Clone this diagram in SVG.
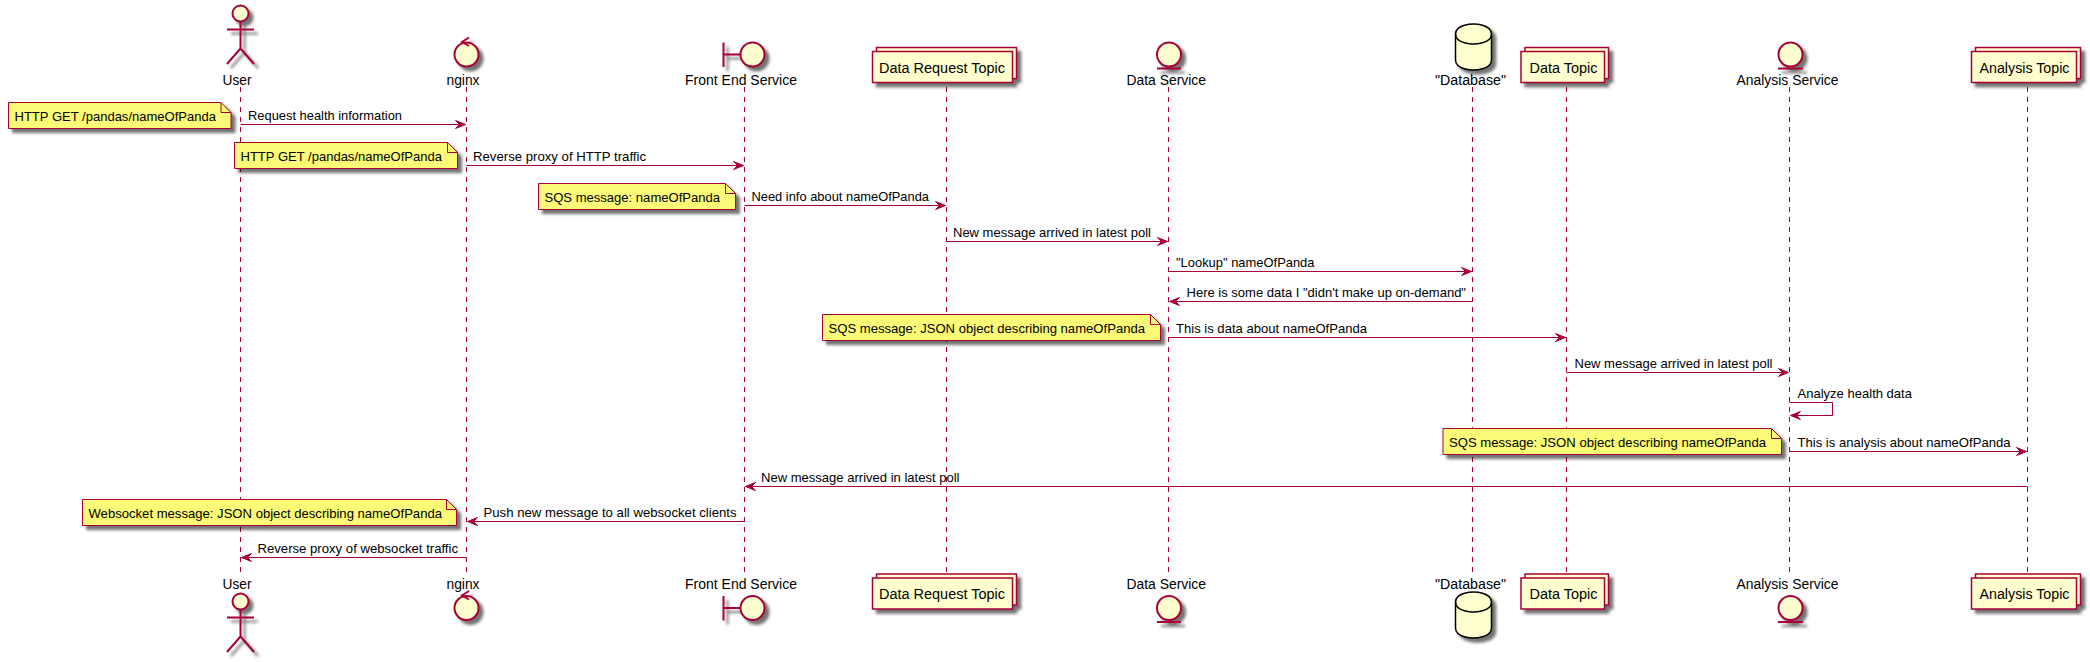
<svg xmlns="http://www.w3.org/2000/svg" width="2090" height="662" viewBox="0 0 2090 662">
<style>
text{font-family:"Liberation Sans",Arial,sans-serif;font-size:13px;fill:#000}
.p{font-size:14px}
.life{stroke:#A80036;stroke-width:1;stroke-dasharray:5,5;fill:none}
.msg{stroke:#A80036;stroke-width:1;fill:none;marker-end:url(#arrow)}
.note{fill:#FBFB77;stroke:#A80036;stroke-width:1}
.fold{fill:none;stroke:#A80036;stroke-width:1}
.sh{filter:url(#shadow)}
.fig{fill:#FEFECE;stroke:#A80036;stroke-width:2}
.ln{fill:none;stroke:#A80036;stroke-width:2}
.box{fill:#FEFECE;stroke:#A80036;stroke-width:1.5}
.db{fill:#FEFECE;stroke:#000;stroke-width:1.5}
</style>
<defs>
<filter id="shadow" x="-50%" y="-50%" width="220%" height="220%" color-interpolation-filters="sRGB">
<feGaussianBlur in="SourceAlpha" stdDeviation="1.6" result="b"/>
<feColorMatrix in="b" type="matrix" values="0 0 0 0 0 0 0 0 0 0 0 0 0 0 0 0 0 0 .55 0" result="c"/>
<feOffset in="c" dx="4" dy="4" result="d"/>
<feBlend in="SourceGraphic" in2="d" mode="normal"/>
</filter>
<marker id="arrow" markerUnits="userSpaceOnUse" viewBox="-1 -5 12 10" refX="10" refY="0" markerWidth="12" markerHeight="10" orient="auto">
<path d="M0,-4 L10,0 L0,4 L4,0 Z" fill="#A80036" stroke="#A80036" stroke-width="1"/>
</marker>
</defs>
<rect width="2090" height="662" fill="#fff"/>
<g id="lifelines">
<line class="life" x1="240.5" y1="87" x2="240.5" y2="573"/>
<line class="life" x1="466.5" y1="87" x2="466.5" y2="573"/>
<line class="life" x1="744.5" y1="87" x2="744.5" y2="573"/>
<line class="life" x1="946.5" y1="87" x2="946.5" y2="573"/>
<line class="life" x1="1168.5" y1="87" x2="1168.5" y2="573"/>
<line class="life" x1="1472.5" y1="87" x2="1472.5" y2="573"/>
<line class="life" x1="1566.5" y1="87" x2="1566.5" y2="573"/>
<line class="life" x1="1789.5" y1="87" x2="1789.5" y2="573"/>
<line class="life" x1="2027.5" y1="87" x2="2027.5" y2="573"/>
</g>
<g id="node-user-top">
<g class="sh"><circle class="fig" cx="240.5" cy="13.5" r="8"/><path class="ln" d="M240.5,21.5V48.5M227,29.5H254M240.5,48.5L227,64M240.5,48.5L254,64"/></g>
<text class="p" x="222.5" y="85" textLength="29" lengthAdjust="spacingAndGlyphs">User</text>
</g>
<g id="node-nginx-top">
<g class="sh"><circle class="fig" cx="466.5" cy="54.5" r="12"/><path class="ln" d="M469,37.5L462,42L469,46"/></g>
<text class="p" x="446.5" y="85" textLength="33" lengthAdjust="spacingAndGlyphs">nginx</text>
</g>
<g id="node-frontend-top">
<g class="sh"><circle class="fig" cx="752.5" cy="54.5" r="12"/><path class="ln" d="M723.5,42.5V67M723.5,54.5H740.5"/></g>
<text class="p" x="685" y="85" textLength="112" lengthAdjust="spacingAndGlyphs">Front End Service</text>
</g>
<g id="node-datarequest-top">
<g class="sh"><rect class="box" x="876.5" y="47.5" width="140" height="31"/><rect class="box" x="872.5" y="51.5" width="140" height="31"/></g>
<text class="p" x="879" y="72.5" textLength="126" lengthAdjust="spacingAndGlyphs">Data Request Topic</text>
</g>
<g id="node-dataservice-top">
<g class="sh"><circle class="fig" cx="1169" cy="54.5" r="12"/><path class="ln" d="M1157,68.5H1181"/></g>
<text class="p" x="1126.5" y="85" textLength="79.5" lengthAdjust="spacingAndGlyphs">Data Service</text>
</g>
<g id="node-database-top">
<path class="db sh" d="M1455.5,34C1455.5,24 1473.5,24 1473.5,24C1473.5,24 1491.5,24 1491.5,34L1491.5,60C1491.5,70 1473.5,70 1473.5,70C1473.5,70 1455.5,70 1455.5,60Z"/>
<path class="db" style="fill:none" d="M1455.5,34C1455.5,44 1473.5,44 1473.5,44C1473.5,44 1491.5,44 1491.5,34"/>
<text class="p" x="1435" y="85" textLength="71" lengthAdjust="spacingAndGlyphs">"Database"</text>
</g>
<g id="node-datatopic-top">
<g class="sh"><rect class="box" x="1525" y="47.5" width="83.5" height="31"/><rect class="box" x="1521" y="51.5" width="83.5" height="31"/></g>
<text class="p" x="1529.5" y="72.5" textLength="68" lengthAdjust="spacingAndGlyphs">Data Topic</text>
</g>
<g id="node-analysisservice-top">
<g class="sh"><circle class="fig" cx="1790.5" cy="54.5" r="12"/><path class="ln" d="M1778,68.5H1803"/></g>
<text class="p" x="1736.5" y="85" textLength="102" lengthAdjust="spacingAndGlyphs">Analysis Service</text>
</g>
<g id="node-analysistopic-top">
<g class="sh"><rect class="box" x="1975.5" y="47.5" width="105" height="31"/><rect class="box" x="1971.5" y="51.5" width="105" height="31"/></g>
<text class="p" x="1979.5" y="72.5" textLength="90" lengthAdjust="spacingAndGlyphs">Analysis Topic</text>
</g>
<g id="connectors">
<line class="msg" x1="240.5" y1="124.5" x2="465.5" y2="124.5"/>
<line class="msg" x1="466.5" y1="165.5" x2="743.5" y2="165.5"/>
<line class="msg" x1="744.5" y1="205.5" x2="945.5" y2="205.5"/>
<line class="msg" x1="946.5" y1="241.5" x2="1167.5" y2="241.5"/>
<line class="msg" x1="1168.5" y1="271.5" x2="1471.5" y2="271.5"/>
<line class="msg" x1="1472.5" y1="301.5" x2="1169.5" y2="301.5"/>
<line class="msg" x1="1168.5" y1="337.5" x2="1565.5" y2="337.5"/>
<line class="msg" x1="1566.5" y1="372.5" x2="1788.5" y2="372.5"/>
<path class="msg" d="M1789.5,402.5H1832.5V415.5H1790.5"/>
<line class="msg" x1="1789.5" y1="451.5" x2="2026.5" y2="451.5"/>
<line class="msg" x1="2027.5" y1="486.5" x2="745.5" y2="486.5"/>
<line class="msg" x1="744.5" y1="521.5" x2="467.5" y2="521.5"/>
<line class="msg" x1="466.5" y1="557.5" x2="241.5" y2="557.5"/>
</g>
<g id="message-labels">
<text x="248" y="120" textLength="154" lengthAdjust="spacingAndGlyphs">Request health information</text>
<text x="473" y="161" textLength="173" lengthAdjust="spacingAndGlyphs">Reverse proxy of HTTP traffic</text>
<text x="751.5" y="201" textLength="177.5" lengthAdjust="spacingAndGlyphs">Need info about nameOfPanda</text>
<text x="953" y="237" textLength="198" lengthAdjust="spacingAndGlyphs">New message arrived in latest poll</text>
<text x="1176" y="267" textLength="138.5" lengthAdjust="spacingAndGlyphs">"Lookup" nameOfPanda</text>
<text x="1186.5" y="297" textLength="279.5" lengthAdjust="spacingAndGlyphs">Here is some data I "didn't make up on-demand"</text>
<text x="1176" y="333" textLength="191" lengthAdjust="spacingAndGlyphs">This is data about nameOfPanda</text>
<text x="1574.5" y="368" textLength="198" lengthAdjust="spacingAndGlyphs">New message arrived in latest poll</text>
<text x="1797.5" y="398" textLength="114.5" lengthAdjust="spacingAndGlyphs">Analyze health data</text>
<text x="1797.5" y="447" textLength="213" lengthAdjust="spacingAndGlyphs">This is analysis about nameOfPanda</text>
<text x="761" y="482" textLength="198.5" lengthAdjust="spacingAndGlyphs">New message arrived in latest poll</text>
<text x="483.5" y="517" textLength="253" lengthAdjust="spacingAndGlyphs">Push new message to all websocket clients</text>
<text x="257.5" y="553" textLength="200.5" lengthAdjust="spacingAndGlyphs">Reverse proxy of websocket traffic</text>
</g>
<g id="note-1"><path class="note sh" d="M8.5,102.5H221L231,112.5V128.5H8.5Z"/><path class="fold" d="M221,102.5V112.5H231"/><text x="14.5" y="120.5" textLength="201.5" lengthAdjust="spacingAndGlyphs">HTTP GET /pandas/nameOfPanda</text></g>
<g id="note-2"><path class="note sh" d="M234.5,142.5H447.5L457.5,152.5V168.5H234.5Z"/><path class="fold" d="M447.5,142.5V152.5H457.5"/><text x="240.5" y="160.5" textLength="201.5" lengthAdjust="spacingAndGlyphs">HTTP GET /pandas/nameOfPanda</text></g>
<g id="note-3"><path class="note sh" d="M538.5,183.5H725.5L735.5,193.5V209.5H538.5Z"/><path class="fold" d="M725.5,183.5V193.5H735.5"/><text x="544.5" y="201.5" textLength="175.5" lengthAdjust="spacingAndGlyphs">SQS message: nameOfPanda</text></g>
<g id="note-4"><path class="note sh" d="M822.5,314.5H1150.5L1160.5,324.5V340.5H822.5Z"/><path class="fold" d="M1150.5,314.5V324.5H1160.5"/><text x="828.5" y="332.5" textLength="316.5" lengthAdjust="spacingAndGlyphs">SQS message: JSON object describing nameOfPanda</text></g>
<g id="note-5"><path class="note sh" d="M1443,428.5H1771.5L1781.5,438.5V454.5H1443Z"/><path class="fold" d="M1771.5,428.5V438.5H1781.5"/><text x="1449" y="446.5" textLength="317" lengthAdjust="spacingAndGlyphs">SQS message: JSON object describing nameOfPanda</text></g>
<g id="note-6"><path class="note sh" d="M82.5,499.5H446.5L456.5,509.5V525.5H82.5Z"/><path class="fold" d="M446.5,499.5V509.5H456.5"/><text x="88.5" y="517.5" textLength="353.5" lengthAdjust="spacingAndGlyphs">Websocket message: JSON object describing nameOfPanda</text></g>
<g id="node-user-bottom">
<text class="p" x="222.5" y="589" textLength="29" lengthAdjust="spacingAndGlyphs">User</text>
<g class="sh"><circle class="fig" cx="240.5" cy="601.5" r="8"/><path class="ln" d="M240.5,609.5V636.5M227,617.5H254M240.5,636.5L227,652M240.5,636.5L254,652"/></g>
</g>
<g id="node-nginx-bottom">
<text class="p" x="446.5" y="589" textLength="33" lengthAdjust="spacingAndGlyphs">nginx</text>
<g class="sh"><circle class="fig" cx="466.5" cy="608" r="12"/><path class="ln" d="M469,591L462,595.5L469,599.5"/></g>
</g>
<g id="node-frontend-bottom">
<text class="p" x="685" y="589" textLength="112" lengthAdjust="spacingAndGlyphs">Front End Service</text>
<g class="sh"><circle class="fig" cx="752.5" cy="608" r="12"/><path class="ln" d="M723.5,596V620.5M723.5,608H740.5"/></g>
</g>
<g id="node-datarequest-bottom">
<g class="sh"><rect class="box" x="876.5" y="574" width="140" height="31"/><rect class="box" x="872.5" y="578" width="140" height="31"/></g>
<text class="p" x="879" y="599" textLength="126" lengthAdjust="spacingAndGlyphs">Data Request Topic</text>
</g>
<g id="node-dataservice-bottom">
<text class="p" x="1126.5" y="589" textLength="79.5" lengthAdjust="spacingAndGlyphs">Data Service</text>
<g class="sh"><circle class="fig" cx="1169" cy="608" r="12"/><path class="ln" d="M1157,622H1181"/></g>
</g>
<g id="node-database-bottom">
<text class="p" x="1435" y="589" textLength="71" lengthAdjust="spacingAndGlyphs">"Database"</text>
<path class="db sh" d="M1455.5,602C1455.5,592 1473.5,592 1473.5,592C1473.5,592 1491.5,592 1491.5,602L1491.5,628C1491.5,638 1473.5,638 1473.5,638C1473.5,638 1455.5,638 1455.5,628Z"/>
<path class="db" style="fill:none" d="M1455.5,602C1455.5,612 1473.5,612 1473.5,612C1473.5,612 1491.5,612 1491.5,602"/>
</g>
<g id="node-datatopic-bottom">
<g class="sh"><rect class="box" x="1525" y="574" width="83.5" height="31"/><rect class="box" x="1521" y="578" width="83.5" height="31"/></g>
<text class="p" x="1529.5" y="599" textLength="68" lengthAdjust="spacingAndGlyphs">Data Topic</text>
</g>
<g id="node-analysisservice-bottom">
<text class="p" x="1736.5" y="589" textLength="102" lengthAdjust="spacingAndGlyphs">Analysis Service</text>
<g class="sh"><circle class="fig" cx="1790.5" cy="608" r="12"/><path class="ln" d="M1778,622H1803"/></g>
</g>
<g id="node-analysistopic-bottom">
<g class="sh"><rect class="box" x="1975.5" y="574" width="105" height="31"/><rect class="box" x="1971.5" y="578" width="105" height="31"/></g>
<text class="p" x="1979.5" y="599" textLength="90" lengthAdjust="spacingAndGlyphs">Analysis Topic</text>
</g>
</svg>
